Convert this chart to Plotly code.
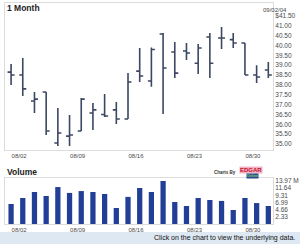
import plotly.graph_objects as go

# ---------------- data ----------------
dates = ["08/02", "08/03", "08/04", "08/05", "08/06",
         "08/09", "08/10", "08/11", "08/12", "08/13",
         "08/16", "08/17", "08/18", "08/19", "08/20",
         "08/23", "08/24", "08/25", "08/26", "08/27",
         "08/30", "08/31", "09/01"]
opens  = [38.65, 38.50, 37.18, 37.64, 35.05, 35.40, 35.66, 36.57, 36.50, 36.73,
          36.27, 38.70, 38.20, 40.58, 39.67, 39.72, 39.10, 40.43, 40.38, 40.30,
          40.13, 38.50, 38.76]
highs  = [39.06, 39.37, 37.64, 37.64, 36.83, 36.47, 37.33, 37.08, 37.54, 37.13,
          38.60, 39.87, 39.90, 40.63, 40.18, 40.13, 40.08, 40.63, 40.94, 40.63,
          40.13, 39.00, 39.16]
lows   = [38.00, 37.44, 36.57, 35.46, 34.90, 34.90, 35.66, 35.71, 36.37, 36.02,
          36.27, 38.15, 37.90, 36.52, 38.35, 39.26, 38.55, 38.35, 39.82, 39.87,
          38.50, 38.10, 38.35]
closes = [38.50, 37.80, 37.28, 35.66, 35.56, 35.46, 37.28, 36.73, 36.42, 36.27,
          38.15, 38.45, 39.80, 38.86, 38.60, 39.62, 39.87, 39.10, 40.38, 40.13,
          38.50, 38.40, 38.50]
volumes = [6.5, 8.45, 10.4, 9.1, 12.0, 10.1, 10.7, 10.4, 9.75, 5.2,
           8.8, 11.7, 10.4, 13.97, 7.15, 5.85, 8.45, 7.8, 7.5, 4.55,
           8.45, 6.8, 5.85]  # millions

price_ticks = [35.0, 35.5, 36.0, 36.5, 37.0, 37.5, 38.0, 38.5,
               39.0, 39.5, 40.0, 40.5, 41.0, 41.5]
price_tick_text = ["35.00", "35.50", "36.00", "36.50", "37.00", "37.50", "38.00",
                   "38.50", "39.00", "39.50", "40.00", "40.50", "41.00", "$41.50"]
vol_ticks = [2.328, 4.657, 6.985, 9.313, 11.642, 13.97]
vol_tick_text = ["2.33", "4.66", "6.99", "9.31", "11.64", "13.97 M"]
date_ticks = ["08/02", "08/09", "08/16", "08/23", "08/30"]
as_of = "09/02/04"

# ---------------- layout helpers ----------------
W, H = 300, 244
def py(y):
    return 1 - y / H
def px(x):
    return x / W

BAR_C = "#3c4862"
VOL_C = "#213f96"
TXT_C = "#4a4a4a"
FONT = "Liberation Sans, Arial, sans-serif"

# price scale: 35.00 at y=144, 19.7 px per dollar; panel from y=3 to y=150
pp = 19.7
p_lo = 35 - (150 - 144) / pp
p_hi = 35 + (144 - 3) / pp
# volume scale: 0 at y=224, 13.97 at y=181; panel from y=178 to 224
vpp = 13.97 / (224 - 181)
v_hi = (224 - 178) * vpp

x_rng = [-0.52, 22.4]

fig = go.Figure()
fig.add_trace(go.Ohlc(
    x=dates, open=opens, high=highs, low=lows, close=closes,
    xaxis="x", yaxis="y", tickwidth=0.3,
    increasing=dict(line=dict(color=BAR_C, width=1.6)),
    decreasing=dict(line=dict(color=BAR_C, width=1.6)),
    showlegend=False,
))
fig.add_trace(go.Bar(
    x=dates, y=volumes, xaxis="x2", yaxis="y2", width=0.45,
    marker=dict(color=VOL_C, line=dict(width=0)), showlegend=False,
))

axis_common = dict(showgrid=False, zeroline=False, showline=True,
                   linecolor="#dcdcdc", linewidth=1, mirror=True)

fig.update_layout(
    width=W, height=H,
    margin=dict(l=0, r=0, t=0, b=0),
    paper_bgcolor="white", plot_bgcolor="white",
    font=dict(family=FONT, size=6, color=TXT_C),
    xaxis=dict(domain=[px(5), px(273)], anchor="y", type="category",
               range=x_rng, tickvals=date_ticks, ticktext=date_ticks,
               ticks="", ticklabelposition="outside right",
               tickfont=dict(size=6, color=TXT_C),
               rangeslider=dict(visible=False), **axis_common),
    yaxis=dict(domain=[py(150), py(3)], anchor="x", side="right",
               range=[p_lo, p_hi], tickvals=price_ticks, ticktext=price_tick_text,
               ticks="", tickfont=dict(size=6.5, color=TXT_C), **axis_common),
    xaxis2=dict(domain=[px(5), px(273)], anchor="y2", type="category",
                range=x_rng, tickvals=date_ticks, ticktext=date_ticks,
                ticks="", ticklabelposition="outside right",
                tickfont=dict(size=6, color=TXT_C), **axis_common),
    yaxis2=dict(domain=[py(224), py(178)], anchor="x2", side="right",
                range=[0, v_hi], tickvals=vol_ticks, ticktext=vol_tick_text,
                ticks="", tickfont=dict(size=6.5, color=TXT_C), **axis_common),
    shapes=[
        dict(type="rect", xref="paper", yref="paper", x0=0, x1=1,
             y0=0, y1=py(232), fillcolor="#dde8f2", line=dict(width=0),
             layer="below"),
    ],
    annotations=[
        dict(text="<b>1 Month</b>", xref="paper", yref="paper",
             x=px(5), y=py(8), xanchor="left", yanchor="middle",
             showarrow=False, font=dict(size=8.5, color="#222222")),
        dict(text=as_of, xref="paper", yref="paper",
             x=px(289), y=py(10), xanchor="right", yanchor="middle",
             showarrow=False, font=dict(size=6, color=TXT_C)),
        dict(text="<b>Volume</b>", xref="paper", yref="paper",
             x=px(5), y=py(172), xanchor="left", yanchor="middle",
             showarrow=False, font=dict(size=8.5, color="#222222")),
        dict(text="<b>Charts By</b>", xref="paper", yref="paper",
             x=px(238), y=py(172), xanchor="right", yanchor="middle",
             showarrow=False, font=dict(size=4.5, color="#333333")),
        dict(text="<b>EDGAR</b>", xref="paper", yref="paper",
             x=px(239), y=py(170), xanchor="left", yanchor="middle",
             showarrow=False, bgcolor="#f3b3c6", borderpad=0,
             font=dict(size=6, color="#c8102e")),
        dict(text="<b>Online</b>", xref="paper", yref="paper",
             x=px(246), y=py(176), xanchor="left", yanchor="middle",
             showarrow=False, bgcolor="#2c4a8a", borderpad=0,
             font=dict(size=3.5, color="#7fd07f")),
        dict(text="Click on the chart to view the underlying data.",
             xref="paper", yref="paper", x=px(297), y=py(238),
             xanchor="right", yanchor="middle", showarrow=False,
             font=dict(size=7, color="#111111")),
    ],
)

fig.write_html("out.html")
